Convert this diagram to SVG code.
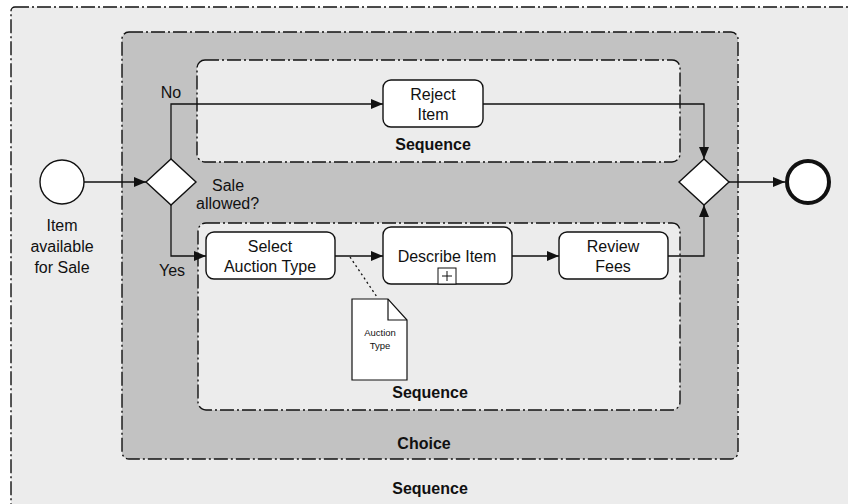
<svg xmlns="http://www.w3.org/2000/svg" width="848" height="504" viewBox="0 0 848 504">
  <style>
    .lane { stroke: #111; stroke-width: 1.4; stroke-dasharray: 14 3 2 3; }
    .outer { fill: #ececec; }
    .choice { fill: #c2c2c2; }
    .inner { fill: #ececec; }
    .task { fill: #fff; stroke: #111; stroke-width: 1.4; }
    .flow { fill: none; stroke: #111; stroke-width: 1.3; }
    .lbl { font-family: "Liberation Sans", Arial, sans-serif; font-size: 16px; fill: #111; }
    .c { text-anchor: middle; }
    .b { font-weight: bold; }
    .small { font-size: 9.5px; }
  </style>
  <defs>
    <marker id="arrow" viewBox="0 0 12 10" refX="12" refY="5" markerWidth="12" markerHeight="10" markerUnits="userSpaceOnUse" orient="auto">
      <path d="M0,0 L12,5 L0,10 Z" fill="#111"/>
    </marker>
  </defs>

  <rect width="848" height="504" fill="#fff"/>

  <!-- outer sequence -->
  <g id="outer-sequence">
    <rect class="lane outer" x="11" y="7" width="850" height="510" rx="4"/>
    <text class="lbl b c" x="430" y="494">Sequence</text>
  </g>

  <!-- choice block -->
  <g id="choice">
    <rect class="lane choice" x="122" y="32" width="616" height="427" rx="7"/>
    <text class="lbl b c" x="424" y="449">Choice</text>
  </g>

  <!-- upper branch -->
  <g id="sequence-reject">
    <rect class="lane inner" x="197" y="60" width="483" height="102" rx="8"/>
    <text class="lbl b c" x="433" y="150">Sequence</text>
  </g>

  <!-- lower branch -->
  <g id="sequence-accept">
    <rect class="lane inner" x="198" y="223" width="482" height="187" rx="8"/>
    <text class="lbl b c" x="430" y="398">Sequence</text>
  </g>

  <!-- connectors -->
  <g id="connectors">
    <line class="flow" x1="84" y1="182" x2="146" y2="182" marker-end="url(#arrow)"/>
    <polyline class="flow" points="171,159 171,104 383,104" marker-end="url(#arrow)"/>
    <polyline class="flow" points="483,104 704,104 704,159" marker-end="url(#arrow)"/>
    <polyline class="flow" points="171,205 171,256 206,256" marker-end="url(#arrow)"/>
    <line class="flow" x1="335" y1="256" x2="383" y2="256" marker-end="url(#arrow)"/>
    <line class="flow" x1="512" y1="256" x2="559" y2="256" marker-end="url(#arrow)"/>
    <polyline class="flow" points="668,256 704,256 704,205" marker-end="url(#arrow)"/>
    <line class="flow" x1="729" y1="182" x2="785" y2="182" marker-end="url(#arrow)"/>
    <line x1="350" y1="257" x2="377" y2="297" stroke="#111" stroke-width="1.3" stroke-dasharray="2 3"/>
  </g>

  <g id="start">
    <circle cx="62" cy="182" r="22" fill="#fff" stroke="#111" stroke-width="1.4"/>
    <text class="lbl c" x="62" y="231">Item</text>
    <text class="lbl c" x="62" y="252">available</text>
    <text class="lbl c" x="62" y="273">for Sale</text>
  </g>

  <g id="gateway-split">
    <polygon points="146,182 171,159 196,182 171,205" fill="#fff" stroke="#111" stroke-width="1.4"/>
    <text class="lbl" x="212" y="191">Sale</text>
    <text class="lbl" x="196" y="209">allowed?</text>
    <text class="lbl c" x="171" y="98">No</text>
    <text class="lbl c" x="172" y="276">Yes</text>
  </g>

  <g id="reject-item">
    <rect class="task" x="383" y="80" width="100" height="47" rx="8"/>
    <text class="lbl c" x="433" y="100">Reject</text>
    <text class="lbl c" x="433" y="120">Item</text>
  </g>

  <g id="select-auction-type">
    <rect class="task" x="206" y="232" width="129" height="47" rx="8"/>
    <text class="lbl c" x="270" y="252">Select</text>
    <text class="lbl c" x="270" y="272">Auction Type</text>
  </g>

  <g id="describe-item">
    <rect class="task" x="383" y="227" width="129" height="57" rx="8"/>
    <text class="lbl c" x="447" y="262">Describe Item</text>
    <rect x="438" y="268" width="18" height="16" fill="#fff" stroke="#111" stroke-width="1"/>
    <path d="M447,271 V281 M442,276 H452" stroke="#111" stroke-width="1"/>
  </g>

  <g id="review-fees">
    <rect class="task" x="559" y="232" width="109" height="47" rx="8"/>
    <text class="lbl c" x="613" y="252">Review</text>
    <text class="lbl c" x="613" y="272">Fees</text>
  </g>

  <g id="auction-type-data">
    <path d="M352,299 H388 L407,320 V380 H352 Z" fill="#fff" stroke="#111" stroke-width="1.2"/>
    <path d="M388,299 V320 H407" fill="none" stroke="#111" stroke-width="1.2"/>
    <text class="lbl small c" x="380" y="336">Auction</text>
    <text class="lbl small c" x="380" y="349">Type</text>
  </g>

  <g id="gateway-merge">
    <polygon points="679,182 704,159 729,182 704,205" fill="#fff" stroke="#111" stroke-width="1.4"/>
  </g>

  <g id="end">
    <circle cx="808" cy="182" r="21" fill="#fff" stroke="#111" stroke-width="4"/>
  </g>
</svg>
